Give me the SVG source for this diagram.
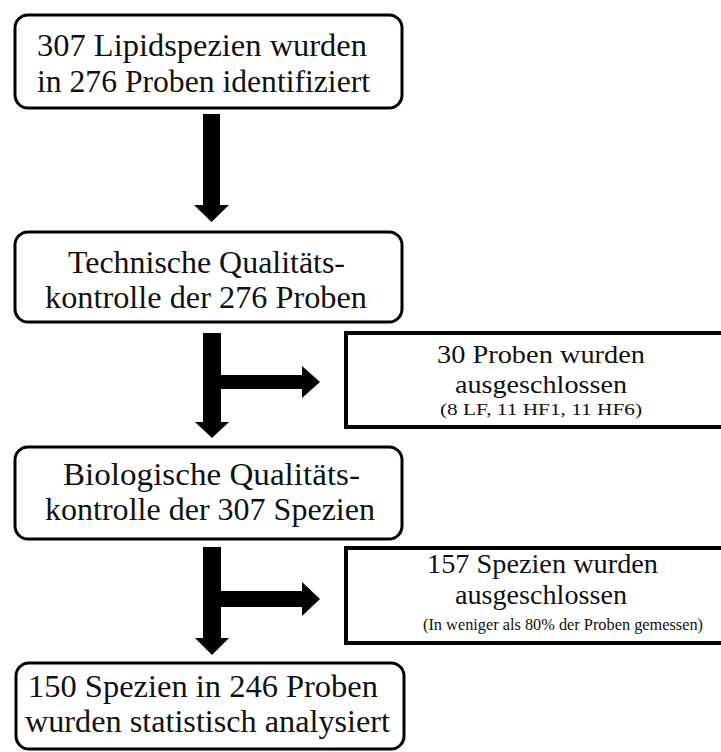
<svg xmlns="http://www.w3.org/2000/svg" width="721" height="752" viewBox="0 0 721 752">
  <style>
    .step { fill: #ffffff; stroke: #000000; stroke-width: 3; }
    .excl { fill: #ffffff; stroke: #000000; stroke-width: 4; }
    .arrow { fill: #000000; stroke: none; }
    .label { fill: #111111; text-anchor: middle; }
    .big { font-size: 32px; }
    .mid { font-size: 28px; }
    .mid2 { font-size: 26px; }
    .small { font-size: 17px; }
  </style>
  <rect width="721" height="752" fill="#ffffff"/>

  <!-- connectors -->
  <g id="connectors">
    <polygon class="arrow" points="203,114 220,114 220,205 229,205 211.5,222 194,205 203,205"/>
    <polygon class="arrow" points="203,333 221,333 221,375 302,375 302,366 320,382 302,398 302,389 221,389 221,422 229,422 212,438 195,422 203,422"/>
    <polygon class="arrow" points="203,547 221,547 221,591 302,591 302,582 320,599 302,616 302,607 221,607 221,638 229,638 212,655 195,638 203,638"/>
  </g>

  <g font-family="Liberation Serif, Tinos, Times New Roman, serif">
  <g id="node-identified">
    <rect class="step" x="15" y="15" width="387" height="93" rx="13"/>
    <text class="label big" x="202" y="56" textLength="330" lengthAdjust="spacingAndGlyphs">307 Lipidspezien wurden</text>
    <text class="label big" x="203.5" y="92" textLength="333" lengthAdjust="spacingAndGlyphs">in 276 Proben identifiziert</text>
  </g>

  <g id="node-technical-qc">
    <rect class="step" x="15" y="232" width="387" height="90" rx="13"/>
    <text class="label big" x="206.5" y="273" textLength="277" lengthAdjust="spacingAndGlyphs">Technische Qualitäts-</text>
    <text class="label big" x="206" y="308" textLength="322" lengthAdjust="spacingAndGlyphs">kontrolle der 276 Proben</text>
  </g>

  <g id="node-excluded-samples">
    <rect class="excl" x="346" y="333" width="390" height="94"/>
    <text class="label mid2" x="541" y="363" textLength="208" lengthAdjust="spacingAndGlyphs">30 Proben wurden</text>
    <text class="label mid2" x="541" y="393" textLength="172" lengthAdjust="spacingAndGlyphs">ausgeschlossen</text>
    <text class="label small" x="541" y="415" textLength="202" lengthAdjust="spacingAndGlyphs">(8 LF, 11 HF1, 11 HF6)</text>
  </g>

  <g id="node-biological-qc">
    <rect class="step" x="15" y="447" width="387" height="92" rx="13"/>
    <text class="label big" x="211.5" y="485" textLength="297" lengthAdjust="spacingAndGlyphs">Biologische Qualitäts-</text>
    <text class="label big" x="210" y="520" textLength="330" lengthAdjust="spacingAndGlyphs">kontrolle der 307 Spezien</text>
  </g>

  <g id="node-excluded-species">
    <rect class="excl" x="346" y="548" width="390" height="95"/>
    <text class="label mid" x="542.5" y="573" textLength="231" lengthAdjust="spacingAndGlyphs">157 Spezien  wurden</text>
    <text class="label mid" x="541" y="604" textLength="172" lengthAdjust="spacingAndGlyphs">ausgeschlossen</text>
    <text class="label small" x="563" y="630" textLength="280" lengthAdjust="spacingAndGlyphs">(In weniger als 80% der Proben gemessen)</text>
  </g>

  <g id="node-analysed">
    <rect class="step" x="16" y="663" width="388" height="86" rx="13"/>
    <text class="label big" x="203" y="697" textLength="350" lengthAdjust="spacingAndGlyphs">150 Spezien in 246 Proben</text>
    <text class="label big" x="207.5" y="732" textLength="365" lengthAdjust="spacingAndGlyphs">wurden statistisch analysiert</text>
  </g>
  </g>
</svg>
